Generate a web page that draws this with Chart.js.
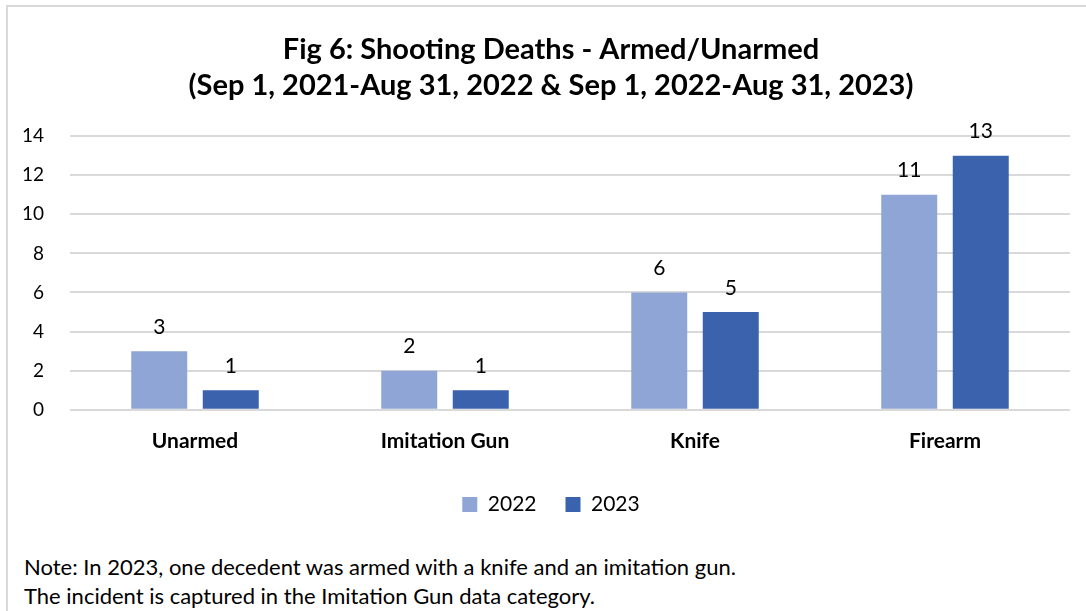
<!DOCTYPE html>
<html>
<head>
<meta charset="utf-8">
<script src="https://cdn.jsdelivr.net/npm/chart.js@4.4.0/dist/chart.umd.min.js"></script>
<style>
  body { margin: 0; background: #fff; font-family: Lato, "Open Sans", sans-serif; }
  #box {
    position: absolute; left: 6px; top: 5px; width: 1096px; height: 620px;
    border: 2px solid #d9d9d9; box-sizing: border-box;
  }
  #wrap { position: absolute; left: 0; top: 0; width: 1086px; height: 518px; }
  #note {
    position: absolute; left: 16px; top: 546px; font-size: 22px; line-height: 28.5px; color: #000;
  }
</style>
</head>
<body>
<div id="box">
  <div id="wrap"><canvas id="chart"></canvas></div>
  <div id="note">Note: In 2023, one decedent was armed with a knife and an imitation gun.<br>The incident is captured in the Imitation Gun data category.</div>
</div>
<script>
const categories = ['Unarmed', 'Imitation Gun', 'Knife', 'Firearm'];
const values2022 = [3, 2, 6, 11];
const values2023 = [1, 1, 5, 13];
const yTicks = [0, 2, 4, 6, 8, 10, 12, 14];

// draws the number above every bar
const valueLabels = {
  id: 'valueLabels',
  afterDatasetsDraw(chart) {
    const ctx = chart.ctx;
    ctx.save();
    ctx.font = '21px Lato, sans-serif';
    ctx.fillStyle = '#000';
    ctx.textAlign = 'center';
    ctx.textBaseline = 'middle';
    chart.data.datasets.forEach((ds, i) => {
      chart.getDatasetMeta(i).data.forEach((bar, j) => {
        ctx.fillText(ds.data[j], bar.x, bar.y - 24);
      });
    });
    ctx.restore();
  }
};

new Chart(document.getElementById('chart'), {
  type: 'bar',
  data: {
    labels: categories,
    datasets: [
      {
        label: '2022',
        data: values2022,
        backgroundColor: '#8fa5d5',
        categoryPercentage: 0.572,
        barPercentage: 0.783
      },
      {
        label: '2023',
        data: values2023,
        backgroundColor: '#3b63ad',
        categoryPercentage: 0.572,
        barPercentage: 0.783
      }
    ]
  },
  plugins: [valueLabels],
  options: {
    responsive: true,
    maintainAspectRatio: false,
    animation: false,
    layout: { padding: { left: 8, right: 8, top: 0, bottom: 0 } },
    scales: {
      x: {
        grid: { display: false },
        border: { display: false },
        ticks: { color: '#000', font: { family: 'Lato', size: 21, weight: 'bold' }, padding: 11 }
      },
      y: {
        min: 0,
        max: 14,
        afterBuildTicks(axis) { axis.ticks = yTicks.map(v => ({ value: v })); },
        afterFit(axis) { axis.width = 54; },
        grid: { color: '#d9d9d9', lineWidth: 2, drawTicks: false },
        border: { display: false },
        ticks: { color: '#000', font: { family: 'Lato', size: 19 }, padding: 26 }
      },
      // empty right axis, only keeps space so the title stays centred on the box
      yRight: {
        position: 'right',
        afterFit(axis) { axis.width = 16; },
        grid: { display: false },
        border: { display: false },
        ticks: { display: false }
      }
    },
    plugins: {
      title: {
        display: true,
        text: ['Fig 6: Shooting Deaths - Armed/Unarmed', '(Sep 1, 2021-Aug 31, 2022 & Sep 1, 2022-Aug 31, 2023)'],
        color: '#000',
        font: { family: 'Lato', size: 29, weight: 'bold', lineHeight: 1.26 },
        padding: { top: 24, bottom: 32 }
      },
      legend: {
        position: 'bottom',
        labels: {
          color: '#000',
          font: { family: 'Lato', size: 21 },
          boxWidth: 15,
          boxHeight: 15,
          padding: 29
        }
      },
      tooltip: { enabled: false }
    }
  }
});
</script>
</body>
</html>
